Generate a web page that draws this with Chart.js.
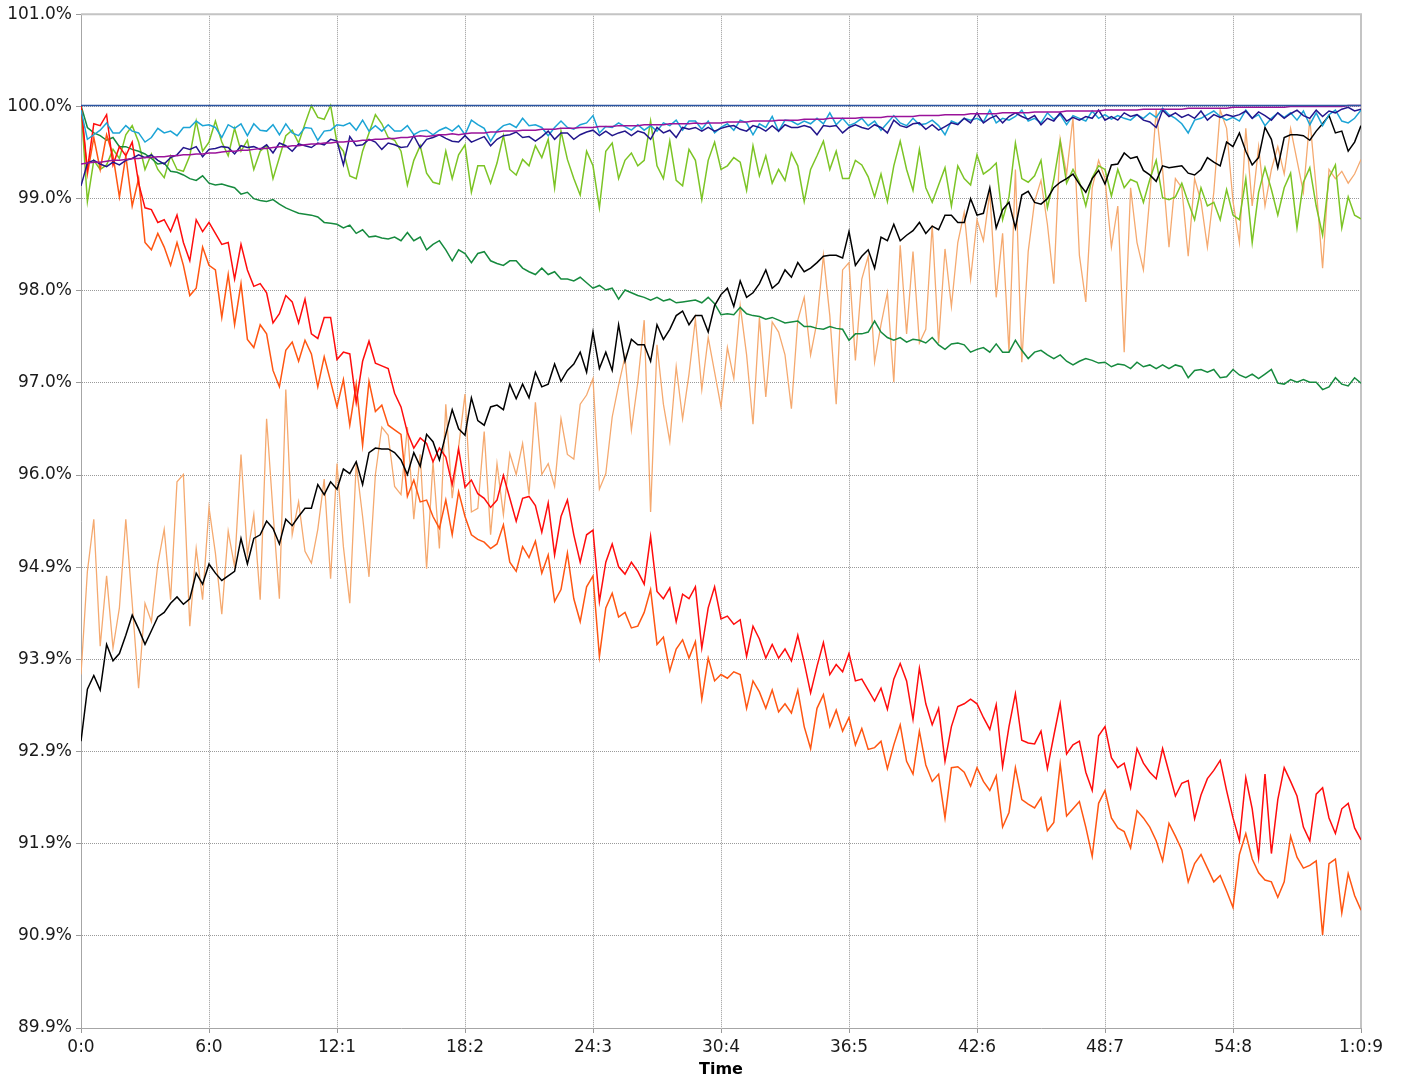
<!DOCTYPE html>
<html>
<head>
<meta charset="utf-8">
<title>Time</title>
<script src="https://cdn.jsdelivr.net/npm/chart.js@4.4.1/dist/chart.umd.min.js"></script>
<style>
  html, body { margin: 0; padding: 0; background: #fff; }
  #wrap { width: 1403px; height: 1079px; position: relative; }
</style>
</head>
<body>
<div id="wrap"><canvas id="myChart"></canvas></div>
<script>
// axis labels
const xTickLabels = ["0:0", "6:0", "12:1", "18:2", "24:3", "30:4", "36:5", "42:6", "48:7", "54:8", "1:0:9"];
const yTickLabels = ["89.9%", "90.9%", "91.9%", "92.9%", "93.9%", "94.9%", "96.0%", "97.0%", "98.0%", "99.0%", "100.0%", "101.0%"];
const yMin = 89.9;
const yMax = 101.0;

// flat 100% reference line (first and last sample)
const baseline = [100.0, 100.0];

const purple = [
  99.36, 99.37, 99.38, 99.38, 99.39, 99.40, 99.40, 99.41, 99.42, 99.42, 99.43, 99.43, 99.44, 99.44, 99.45, 99.45, 99.46, 99.46, 99.47, 99.47,
  99.48, 99.48, 99.49, 99.50, 99.50, 99.51, 99.51, 99.52, 99.53, 99.53, 99.54, 99.55, 99.55, 99.56, 99.56, 99.57, 99.58, 99.58, 99.59, 99.59,
  99.60, 99.60, 99.61, 99.61, 99.62, 99.62, 99.63, 99.63, 99.64, 99.64, 99.65, 99.65, 99.66, 99.67, 99.66, 99.67, 99.68, 99.68, 99.69, 99.68,
  99.69, 99.70, 99.70, 99.70, 99.71, 99.71, 99.72, 99.72, 99.72, 99.73, 99.73, 99.73, 99.74, 99.74, 99.74, 99.75, 99.75, 99.75, 99.76, 99.76,
  99.76, 99.77, 99.77, 99.77, 99.78, 99.78, 99.78, 99.78, 99.79, 99.79, 99.79, 99.79, 99.80, 99.80, 99.80, 99.80, 99.81, 99.80, 99.81, 99.81,
  99.81, 99.82, 99.82, 99.82, 99.82, 99.83, 99.83, 99.83, 99.83, 99.84, 99.84, 99.84, 99.84, 99.85, 99.85, 99.85, 99.85, 99.86, 99.86, 99.86,
  99.86, 99.86, 99.87, 99.87, 99.87, 99.87, 99.88, 99.88, 99.88, 99.88, 99.88, 99.89, 99.89, 99.89, 99.89, 99.90, 99.90, 99.90, 99.90, 99.91,
  99.91, 99.91, 99.91, 99.91, 99.92, 99.92, 99.92, 99.92, 99.92, 99.93, 99.93, 99.93, 99.93, 99.93, 99.94, 99.94, 99.94, 99.94, 99.94, 99.94,
  99.95, 99.95, 99.95, 99.95, 99.95, 99.95, 99.96, 99.96, 99.96, 99.96, 99.96, 99.96, 99.96, 99.97, 99.97, 99.97, 99.97, 99.97, 99.97, 99.97,
  99.98, 99.98, 99.98, 99.98, 99.98, 99.98, 99.98, 99.98, 99.98, 99.99, 99.99, 99.99, 99.99, 99.99, 99.99, 99.99, 99.99, 99.99, 100.0, 100.0,
  100.0
];

const navy = [
  99.12, 99.37, 99.40, 99.36, 99.33, 99.38, 99.35, 99.40, 99.42, 99.46, 99.43, 99.46, 99.40, 99.36, 99.43, 99.46, 99.54, 99.52, 99.55, 99.44,
  99.52, 99.53, 99.55, 99.54, 99.47, 99.56, 99.54, 99.55, 99.52, 99.57, 99.48, 99.59, 99.56, 99.50, 99.58, 99.56, 99.54, 99.59, 99.57, 99.63,
  99.61, 99.35, 99.66, 99.56, 99.57, 99.63, 99.60, 99.52, 99.59, 99.57, 99.54, 99.55, 99.67, 99.54, 99.63, 99.65, 99.68, 99.64, 99.61, 99.60,
  99.67, 99.60, 99.63, 99.66, 99.56, 99.63, 99.67, 99.68, 99.71, 99.65, 99.66, 99.61, 99.66, 99.72, 99.63, 99.70, 99.70, 99.63, 99.68, 99.71,
  99.73, 99.67, 99.72, 99.67, 99.70, 99.72, 99.67, 99.72, 99.70, 99.63, 99.76, 99.70, 99.73, 99.65, 99.76, 99.74, 99.76, 99.72, 99.76, 99.72,
  99.75, 99.77, 99.78, 99.74, 99.72, 99.78, 99.76, 99.72, 99.78, 99.72, 99.79, 99.76, 99.76, 99.78, 99.76, 99.68, 99.78, 99.77, 99.78, 99.70,
  99.76, 99.79, 99.76, 99.74, 99.79, 99.76, 99.70, 99.84, 99.78, 99.76, 99.80, 99.81, 99.74, 99.79, 99.73, 99.77, 99.81, 99.79, 99.86, 99.81,
  99.92, 99.81, 99.86, 99.89, 99.81, 99.88, 99.92, 99.88, 99.85, 99.89, 99.79, 99.86, 99.83, 99.92, 99.83, 99.87, 99.84, 99.88, 99.86, 99.95,
  99.84, 99.88, 99.84, 99.92, 99.88, 99.90, 99.84, 99.82, 99.76, 99.95, 99.88, 99.92, 99.87, 99.90, 99.86, 99.94, 99.84, 99.90, 99.87, 99.90,
  99.88, 99.90, 99.94, 99.86, 99.93, 99.89, 99.84, 99.92, 99.86, 99.91, 99.95, 99.89, 99.86, 99.95, 99.88, 99.94, 99.92, 99.96, 99.98, 99.94,
  99.96
];

const cyan = [
  99.95, 99.63, 99.68, 99.73, 99.81, 99.70, 99.70, 99.78, 99.72, 99.70, 99.60, 99.65, 99.75, 99.70, 99.72, 99.67, 99.76, 99.76, 99.83, 99.78,
  99.79, 99.76, 99.65, 99.79, 99.75, 99.80, 99.67, 99.80, 99.73, 99.72, 99.79, 99.68, 99.80, 99.70, 99.67, 99.76, 99.75, 99.62, 99.72, 99.73,
  99.79, 99.78, 99.81, 99.73, 99.84, 99.72, 99.78, 99.72, 99.79, 99.72, 99.72, 99.78, 99.68, 99.72, 99.73, 99.68, 99.73, 99.76, 99.72, 99.78,
  99.68, 99.84, 99.79, 99.75, 99.61, 99.72, 99.78, 99.80, 99.76, 99.86, 99.78, 99.79, 99.76, 99.67, 99.76, 99.83, 99.76, 99.74, 99.79, 99.81,
  99.89, 99.70, 99.77, 99.76, 99.81, 99.77, 99.73, 99.79, 99.73, 99.78, 99.72, 99.81, 99.78, 99.84, 99.73, 99.83, 99.83, 99.74, 99.83, 99.70,
  99.76, 99.80, 99.73, 99.84, 99.81, 99.68, 99.80, 99.76, 99.88, 99.72, 99.84, 99.83, 99.79, 99.83, 99.80, 99.86, 99.80, 99.92, 99.79, 99.86,
  99.78, 99.81, 99.86, 99.78, 99.83, 99.73, 99.81, 99.89, 99.81, 99.78, 99.86, 99.79, 99.80, 99.84, 99.78, 99.68, 99.83, 99.80, 99.86, 99.84,
  99.86, 99.82, 99.95, 99.81, 99.86, 99.84, 99.88, 99.95, 99.83, 99.86, 99.81, 99.92, 99.85, 99.90, 99.79, 99.89, 99.86, 99.83, 99.94, 99.86,
  99.90, 99.85, 99.89, 99.86, 99.84, 99.90, 99.86, 99.92, 99.87, 99.97, 99.90, 99.86, 99.80, 99.70, 99.84, 99.86, 99.90, 99.94, 99.88, 99.84,
  99.87, 99.83, 99.95, 99.86, 99.90, 99.78, 99.86, 99.92, 99.87, 99.92, 99.84, 99.94, 99.79, 99.92, 99.78, 99.90, 99.95, 99.83, 99.81, 99.86,
  99.95
];

const lightGreen = [
  100.0, 98.95, 99.40, 99.30, 99.35, 99.52, 99.42, 99.68, 99.78, 99.60, 99.30, 99.47, 99.30, 99.21, 99.45, 99.30, 99.28, 99.45, 99.83, 99.50,
  99.60, 99.83, 99.60, 99.45, 99.75, 99.50, 99.62, 99.30, 99.50, 99.56, 99.20, 99.43, 99.67, 99.73, 99.59, 99.80, 100.0, 99.87, 99.85, 100.0,
  99.59, 99.50, 99.23, 99.20, 99.50, 99.70, 99.90, 99.80, 99.65, 99.62, 99.50, 99.13, 99.40, 99.56, 99.26, 99.16, 99.14, 99.50, 99.20, 99.46,
  99.57, 99.05, 99.34, 99.34, 99.15, 99.37, 99.67, 99.30, 99.24, 99.41, 99.34, 99.56, 99.43, 99.63, 99.10, 99.72, 99.41, 99.20, 99.02, 99.50,
  99.34, 98.88, 99.50, 99.59, 99.20, 99.40, 99.48, 99.34, 99.40, 99.83, 99.34, 99.20, 99.61, 99.18, 99.12, 99.52, 99.40, 98.97, 99.40, 99.60,
  99.30, 99.34, 99.43, 99.38, 99.07, 99.56, 99.23, 99.45, 99.15, 99.30, 99.18, 99.48, 99.34, 98.95, 99.30, 99.45, 99.61, 99.30, 99.50, 99.20,
  99.20, 99.40, 99.35, 99.22, 99.00, 99.25, 98.95, 99.34, 99.61, 99.30, 99.07, 99.52, 99.10, 98.94, 99.13, 99.32, 98.90, 99.34, 99.20, 99.13,
  99.46, 99.25, 99.30, 99.37, 98.75, 99.00, 99.59, 99.20, 99.16, 99.23, 99.40, 98.88, 99.19, 99.61, 99.15, 99.30, 99.16, 98.90, 99.21, 99.34,
  99.30, 99.01, 99.30, 99.10, 99.19, 99.16, 98.94, 99.19, 99.40, 98.99, 98.97, 99.00, 99.15, 98.94, 98.75, 99.10, 98.90, 98.94, 98.75, 99.08,
  98.80, 98.75, 99.20, 98.50, 99.05, 99.32, 99.08, 98.80, 99.10, 99.26, 98.66, 99.16, 99.32, 98.90, 98.58, 99.21, 99.35, 98.66, 99.00, 98.80,
  98.76
];

const darkGreen = [
  100.0, 99.76, 99.70, 99.67, 99.62, 99.65, 99.55, 99.55, 99.52, 99.50, 99.47, 99.42, 99.36, 99.37, 99.28, 99.27, 99.24, 99.20, 99.18, 99.23,
  99.15, 99.13, 99.14, 99.12, 99.10, 99.03, 99.05, 98.98, 98.96, 98.95, 98.97, 98.92, 98.88, 98.85, 98.82, 98.81, 98.80, 98.78, 98.72, 98.71,
  98.70, 98.66, 98.69, 98.60, 98.64, 98.56, 98.57, 98.55, 98.54, 98.56, 98.52, 98.61, 98.52, 98.56, 98.42, 98.48, 98.52, 98.42, 98.30, 98.42,
  98.38, 98.28, 98.38, 98.40, 98.30, 98.27, 98.25, 98.30, 98.30, 98.22, 98.18, 98.15, 98.22, 98.15, 98.18, 98.10, 98.10, 98.08, 98.12, 98.06,
  98.00, 98.03, 97.98, 98.00, 97.88, 97.98, 97.95, 97.92, 97.90, 97.87, 97.90, 97.86, 97.88, 97.84, 97.85, 97.86, 97.87, 97.84, 97.90, 97.83,
  97.71, 97.72, 97.71, 97.79, 97.72, 97.70, 97.69, 97.66, 97.68, 97.65, 97.62, 97.63, 97.64, 97.58, 97.58, 97.56, 97.55, 97.58, 97.56, 97.55,
  97.43, 97.50, 97.50, 97.52, 97.64, 97.52, 97.46, 97.43, 97.46, 97.41, 97.44, 97.43, 97.40, 97.46, 97.38, 97.33, 97.39, 97.40, 97.38, 97.30,
  97.33, 97.35, 97.30, 97.39, 97.30, 97.30, 97.43, 97.32, 97.23, 97.30, 97.32, 97.27, 97.23, 97.27, 97.20, 97.16, 97.20, 97.23, 97.21, 97.18,
  97.19, 97.14, 97.17, 97.16, 97.12, 97.19, 97.14, 97.16, 97.12, 97.16, 97.12, 97.16, 97.14, 97.02, 97.10, 97.11, 97.08, 97.11, 97.02, 97.03,
  97.11, 97.05, 97.02, 97.06, 97.01, 97.06, 97.11, 96.96, 96.95, 97.00, 96.97, 97.00, 96.97, 96.97, 96.89, 96.92, 97.02, 96.95, 96.93, 97.02,
  96.96
];

const red = [
  100.0, 99.30, 99.80, 99.78, 99.90, 99.35, 99.55, 99.45, 99.60, 99.15, 98.88, 98.86, 98.72, 98.75, 98.62, 98.80, 98.50, 98.30, 98.75, 98.62,
  98.72, 98.60, 98.48, 98.50, 98.10, 98.48, 98.20, 98.02, 98.05, 97.95, 97.62, 97.72, 97.92, 97.85, 97.62, 97.88, 97.50, 97.45, 97.68, 97.68,
  97.22, 97.30, 97.28, 96.75, 97.20, 97.42, 97.18, 97.15, 97.12, 96.85, 96.70, 96.42, 96.25, 96.36, 96.30, 96.10, 96.25, 96.15, 95.85, 96.24,
  95.82, 95.90, 95.75, 95.70, 95.60, 95.68, 95.95, 95.70, 95.45, 95.70, 95.72, 95.62, 95.33, 95.65, 95.08, 95.50, 95.68, 95.30, 95.00, 95.30,
  95.35, 94.57, 95.00, 95.20, 94.95, 94.87, 95.00, 94.90, 94.76, 95.28, 94.68, 94.60, 94.72, 94.35, 94.65, 94.60, 94.73, 94.06, 94.50, 94.73,
  94.38, 94.41, 94.32, 94.37, 93.97, 94.30, 94.16, 93.95, 94.10, 93.95, 94.05, 93.92, 94.20, 93.90, 93.57, 93.86, 94.12, 93.77, 93.88, 93.80,
  94.00, 93.70, 93.72, 93.60, 93.48, 93.62, 93.39, 93.72, 93.89, 93.70, 93.28, 93.84, 93.45, 93.22, 93.40, 92.82, 93.20, 93.42, 93.45, 93.50,
  93.45, 93.30, 93.17, 93.44, 92.76, 93.20, 93.56, 93.05, 93.02, 93.01, 93.15, 92.74, 93.10, 93.45, 92.90, 93.00, 93.04, 92.70, 92.50, 93.10,
  93.20, 92.86, 92.75, 92.80, 92.53, 92.96, 92.80, 92.70, 92.63, 92.96, 92.70, 92.44, 92.58, 92.61, 92.19, 92.45, 92.63, 92.72, 92.83, 92.50,
  92.20, 91.95, 92.64, 92.30, 91.77, 92.68, 91.81, 92.40, 92.75, 92.60, 92.44, 92.10, 91.95, 92.46, 92.53, 92.20, 92.03, 92.30, 92.36, 92.09,
  91.96
];

const orange = [
  100.0, 99.25, 99.65, 99.30, 99.68, 99.45, 99.00, 99.45, 98.90, 99.20, 98.50, 98.42, 98.60, 98.45, 98.25, 98.50, 98.25, 97.92, 98.00, 98.45,
  98.25, 98.20, 97.68, 98.15, 97.60, 98.05, 97.44, 97.35, 97.60, 97.50, 97.10, 96.92, 97.32, 97.41, 97.20, 97.43, 97.28, 96.92, 97.25, 96.98,
  96.70, 97.00, 96.50, 96.95, 96.28, 96.98, 96.65, 96.72, 96.50, 96.45, 96.40, 95.72, 95.90, 95.66, 95.68, 95.50, 95.37, 95.68, 95.30, 95.77,
  95.50, 95.30, 95.25, 95.22, 95.15, 95.20, 95.41, 95.00, 94.90, 95.17, 95.05, 95.23, 94.88, 95.08, 94.57, 94.70, 95.10, 94.60, 94.35, 94.73,
  94.85, 93.97, 94.50, 94.66, 94.40, 94.45, 94.28, 94.30, 94.45, 94.70, 94.10, 94.18, 93.81, 94.05, 94.15, 93.95, 94.13, 93.50, 93.95, 93.70,
  93.77, 93.73, 93.80, 93.77, 93.40, 93.70, 93.58, 93.40, 93.60, 93.36, 93.45, 93.35, 93.60, 93.20, 92.96, 93.40, 93.55, 93.20, 93.38, 93.15,
  93.30, 93.00, 93.18, 92.95, 92.97, 93.04, 92.74, 93.00, 93.22, 92.82, 92.68, 93.15, 92.78, 92.60, 92.68, 92.20, 92.75, 92.76, 92.70, 92.55,
  92.75, 92.60, 92.50, 92.66, 92.10, 92.26, 92.75, 92.40, 92.35, 92.31, 92.42, 92.06, 92.15, 92.79, 92.22, 92.30, 92.38, 92.10, 91.78, 92.36,
  92.50, 92.20, 92.09, 92.05, 91.87, 92.28, 92.20, 92.10, 91.95, 91.73, 92.14, 92.00, 91.85, 91.50, 91.70, 91.80, 91.65, 91.50, 91.57, 91.40,
  91.22, 91.80, 92.03, 91.75, 91.60, 91.52, 91.50, 91.33, 91.50, 92.00, 91.77, 91.65, 91.68, 91.73, 90.92, 91.70, 91.75, 91.16, 91.59, 91.35,
  91.19
];

const black = [
  93.04, 93.61, 93.76, 93.60, 94.10, 93.92, 94.00, 94.20, 94.42, 94.27, 94.10, 94.25, 94.40, 94.45, 94.55, 94.62, 94.54, 94.60, 94.88, 94.76,
  94.98, 94.88, 94.80, 94.85, 94.90, 95.26, 94.98, 95.26, 95.30, 95.45, 95.37, 95.20, 95.47, 95.40, 95.50, 95.59, 95.59, 95.85, 95.74, 95.88,
  95.80, 96.02, 95.97, 96.10, 95.85, 96.20, 96.25, 96.24, 96.24, 96.20, 96.12, 95.96, 96.20, 96.05, 96.40, 96.32, 96.12, 96.40, 96.67, 96.46,
  96.39, 96.80, 96.55, 96.50, 96.70, 96.72, 96.67, 96.95, 96.79, 96.95, 96.80, 97.08, 96.92, 96.95, 97.17, 96.98, 97.10, 97.17, 97.30, 97.08,
  97.52, 97.12, 97.30, 97.10, 97.60, 97.20, 97.44, 97.38, 97.38, 97.20, 97.60, 97.44, 97.55, 97.70, 97.75, 97.60, 97.70, 97.70, 97.52, 97.81,
  97.93, 98.00, 97.80, 98.08, 97.90, 97.95, 98.05, 98.20, 98.00, 98.06, 98.20, 98.12, 98.28, 98.18, 98.22, 98.28, 98.35, 98.36, 98.36, 98.33,
  98.62, 98.25, 98.35, 98.42, 98.22, 98.56, 98.52, 98.70, 98.52, 98.58, 98.63, 98.72, 98.60, 98.68, 98.64, 98.80, 98.80, 98.72, 98.72, 98.98,
  98.80, 98.82, 99.10, 98.66, 98.86, 98.94, 98.66, 99.02, 99.06, 98.94, 98.92, 98.98, 99.10, 99.16, 99.20, 99.25, 99.14, 99.05, 99.20, 99.29,
  99.14, 99.35, 99.36, 99.48, 99.42, 99.44, 99.29, 99.24, 99.17, 99.34, 99.32, 99.33, 99.34, 99.26, 99.24, 99.30, 99.43, 99.38, 99.34, 99.60,
  99.55, 99.70, 99.50, 99.35, 99.43, 99.76, 99.63, 99.32, 99.65, 99.68, 99.68, 99.67, 99.62, 99.72, 99.80, 99.89, 99.70, 99.72, 99.50, 99.60,
  99.78
];

const peach = [
  93.77, 94.90, 95.47, 94.08, 94.85, 94.06, 94.50, 95.47, 94.55, 93.62, 94.55, 94.35, 94.98, 95.36, 94.59, 95.88, 95.96, 94.30, 95.15, 94.59,
  95.60, 95.10, 94.43, 95.34, 94.95, 96.18, 95.08, 95.52, 94.59, 96.57, 95.55, 94.60, 96.89, 95.30, 95.66, 95.12, 94.99, 95.36, 95.91, 94.82,
  96.08, 95.17, 94.55, 96.08, 95.50, 94.84, 95.96, 96.48, 96.39, 95.83, 95.74, 96.48, 95.47, 96.18, 94.93, 96.10, 95.15, 96.73, 95.70, 96.26,
  96.84, 95.55, 95.59, 96.43, 95.30, 96.08, 95.52, 96.19, 95.96, 96.30, 95.74, 96.75, 95.96, 96.08, 95.83, 96.57, 96.18, 96.13, 96.73, 96.83,
  97.01, 95.80, 95.97, 96.59, 96.94, 97.25, 96.45, 96.97, 97.65, 95.55, 97.38, 96.73, 96.32, 97.14, 96.57, 97.06, 97.66, 96.89, 97.46, 97.08,
  96.70, 97.35, 97.01, 97.81, 97.27, 96.51, 97.68, 96.81, 97.63, 97.52, 97.27, 96.68, 97.65, 97.90, 97.27, 97.63, 98.36, 97.70, 96.73, 98.20,
  98.28, 97.21, 98.10, 98.35, 97.19, 97.60, 97.95, 96.97, 98.47, 97.50, 98.40, 97.40, 97.55, 98.69, 97.40, 98.43, 97.80, 98.50, 98.83, 98.10,
  98.75, 98.52, 99.05, 97.90, 98.60, 97.30, 99.30, 97.19, 98.40, 98.95, 99.18, 98.70, 98.05, 99.63, 99.25, 99.87, 98.36, 97.85, 99.10, 99.40,
  99.20, 98.45, 98.90, 97.30, 99.10, 98.50, 98.20, 99.00, 99.95, 99.30, 98.45, 99.20, 99.10, 98.35, 99.20, 98.95, 98.45, 99.05, 99.95, 99.75,
  98.95, 98.50, 99.75, 98.90, 99.55, 98.90, 99.30, 99.55, 99.25, 99.75, 99.40, 99.05, 99.85, 99.10, 98.22, 99.30, 99.20, 99.28, 99.15, 99.25,
  99.41
];

const lastIndex = red.length - 1;
const xStep = lastIndex / (xTickLabels.length - 1);

function toPoints(values) {
  return values.map((v, i) => ({ x: i, y: v }));
}

function line(label, values, color, width) {
  return {
    label: label,
    data: toPoints(values),
    borderColor: color,
    backgroundColor: color,
    borderWidth: width || 1.5,
    pointRadius: 0,
    tension: 0,
    fill: false,
  };
}

const frame = {
  id: "frame",
  beforeDatasetsDraw(chart) {
    const { ctx, chartArea: a } = chart;
    ctx.save();
    ctx.strokeStyle = "#c4c4c4";
    ctx.lineWidth = 2;
    ctx.beginPath();
    ctx.moveTo(a.left, a.top);
    ctx.lineTo(a.right, a.top);
    ctx.lineTo(a.right, a.bottom);
    ctx.stroke();
    ctx.restore();
  },
};

const tickFont = { family: "'DejaVu Sans', Verdana, sans-serif", size: 17 };

const config = {
  type: "line",
  data: {
    datasets: [
      {
        label: "100%",
        data: [{ x: 0, y: baseline[0] }, { x: lastIndex, y: baseline[1] }],
        borderColor: "#2c56a2",
        borderWidth: 1.5,
        pointRadius: 0,
        fill: false,
      },
      line("purple", purple, "#9a139a"),
      line("navy", navy, "#23168c"),
      line("cyan", cyan, "#1ca4d6"),
      line("black", black, "#000000"),
      line("red", red, "#ff0d0d"),
      line("orange", orange, "#ff5612"),
      line("darkGreen", darkGreen, "#168a3e"),
      line("lightGreen", lightGreen, "#7cc425"),
      line("peach", peach, "#f5a96f", 1.3),
    ],
  },
  options: {
    responsive: true,
    maintainAspectRatio: false,
    animation: false,
    layout: { padding: { top: 11, right: 42, left: 0, bottom: 0 } },
    plugins: {
      legend: { display: false },
      tooltip: { enabled: false },
    },
    scales: {
      x: {
        type: "linear",
        min: 0,
        max: lastIndex,
        afterFit: (s) => { s.height = 51; },
        afterBuildTicks: (s) => {
          s.ticks = xTickLabels.map((_, k) => ({ value: k * xStep }));
        },
        ticks: {
          autoSkip: false,
          maxRotation: 0,
          padding: 4,
          color: "#1a1a1a",
          font: tickFont,
          callback: (v) => xTickLabels[Math.round(v / xStep)],
        },
        grid: { color: "#9a9a9a", lineWidth: 1, tickLength: 5, tickColor: "#9a9a9a" },
        border: { color: "#a6a6a6", width: 1, dash: [1, 1] },
        title: {
          display: true,
          text: "Time",
          color: "#000",
          font: { family: "'DejaVu Sans', Verdana, sans-serif", size: 16, weight: "bold" },
          padding: { top: 0, bottom: 0 },
        },
      },
      y: {
        min: yMin,
        max: yMax,
        afterFit: (s) => { s.width = 81; },
        afterBuildTicks: (s) => {
          const n = yTickLabels.length - 1;
          s.ticks = yTickLabels.map((_, k) => ({ value: yMin + (k * (yMax - yMin)) / n }));
        },
        ticks: {
          padding: 4,
          color: "#1a1a1a",
          font: tickFont,
          callback: (v, k) => yTickLabels[k],
        },
        grid: { color: "#9a9a9a", lineWidth: 1, tickLength: 5, tickColor: "#9a9a9a" },
        border: { color: "#a6a6a6", width: 1, dash: [1, 1] },
      },
    },
  },
  plugins: [frame],
};

var myChart = new Chart(document.getElementById("myChart"), config);
</script>
</body>
</html>
